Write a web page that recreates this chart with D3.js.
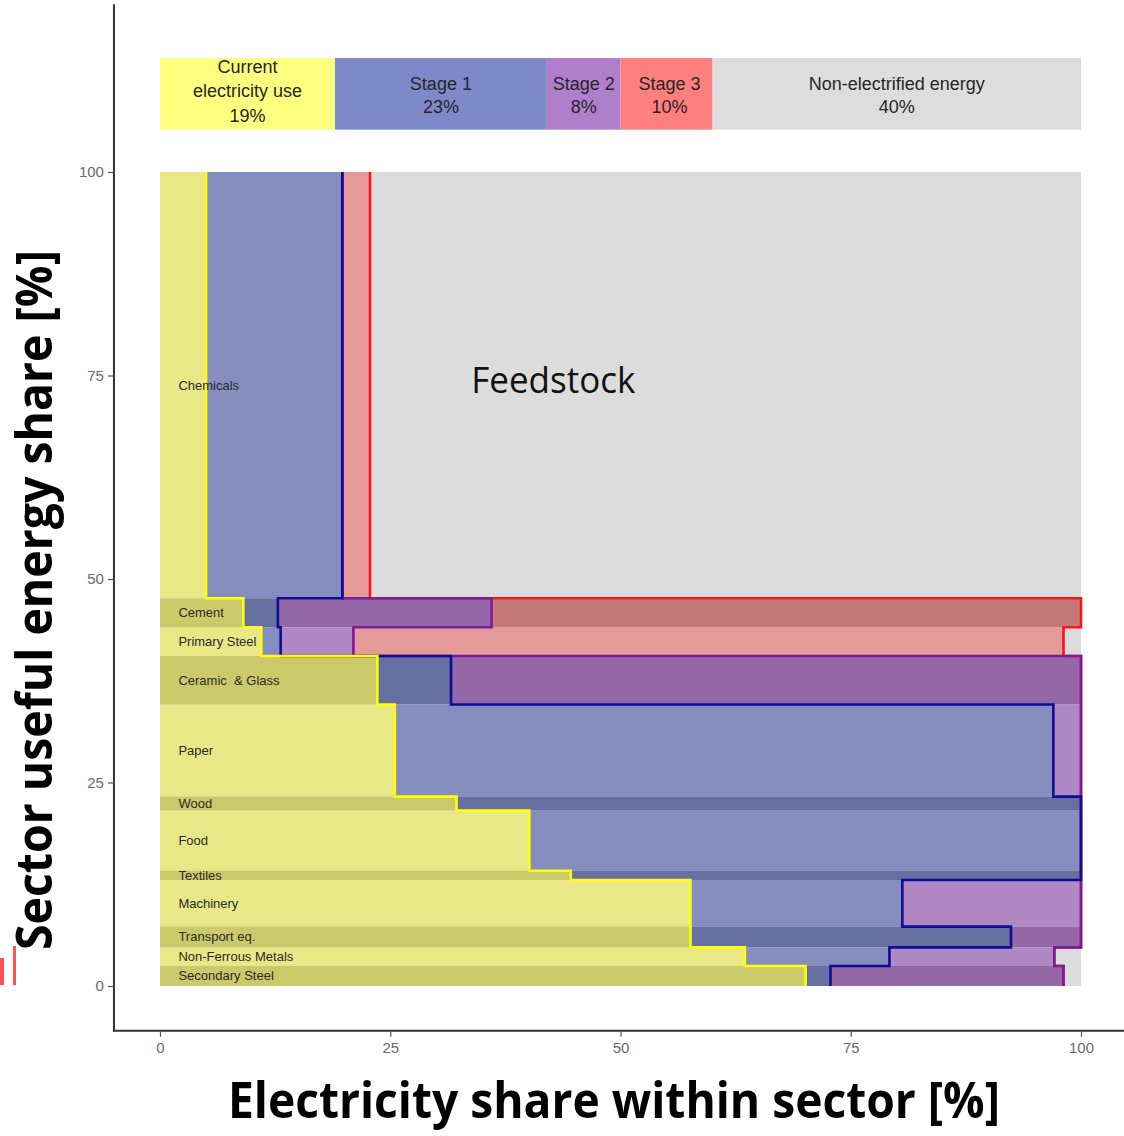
<!DOCTYPE html>
<html>
<head>
<meta charset="utf-8">
<script src="https://cdn.jsdelivr.net/npm/d3@7"></script>
<style>
  html, body { margin: 0; padding: 0; background: #fff; }
  svg { display: block; }
</style>
</head>
<body>
<svg id="chart" width="1124" height="1136"></svg>
<script>
// ---------------- DATA ----------------
const sectors = ["Chemicals", "Cement", "Primary Steel", "Ceramic  & Glass", "Paper", "Wood",
                 "Food", "Textiles", "Machinery", "Transport eq.", "Non-Ferrous Metals", "Secondary Steel"];
// sector share of useful energy [%], listed top to bottom
const sectorShare = [52.37, 3.56, 3.53, 5.96, 11.32, 1.72, 7.38, 1.14, 5.73, 2.54, 2.29, 2.46];
// electricity shares within sector [%]
const currentUse = [5.0, 9.05, 11.0, 23.6, 25.5, 32.2, 40.1, 44.6, 57.6, 57.6, 63.5, 70.1];
const stage1 =     [14.8, 3.75, 2.1, 8.0, 71.5, 67.8, 59.9, 55.4, 23.0, 34.8, 15.7, 2.7];
const stage2 =     [0.0, 23.2, 7.9, 68.4, 3.0, 0.0, 0.0, 0.0, 19.4, 7.6, 17.9, 25.3];
const stage3 =     [3.0, 64.0, 77.1, 0.0, 0.0, 0.0, 0.0, 0.0, 0.0, 0.0, 0.0, 0.0];

const summaryLabels = [["Current", "electricity use", "19%"], ["Stage 1", "23%"], ["Stage 2", "8%"],
                       ["Stage 3", "10%"], ["Non-electrified energy", "40%"]];
const summaryValues = [19, 23, 8, 10, 40];

const xTicks = [0, 25, 50, 75, 100];
const yTicks = [0, 25, 50, 75, 100];
const xTitle = "Electricity share within sector [%]";
const yTitle = "Sector useful energy share [%]";
const noteText = "Feedstock";

// ---------------- STYLE ----------------
const fillLight = ["#e8e887", "#858ebf", "#b088c4", "#e59a9a", "#dcdcdc"];
const fillDark  = ["#caca6b", "#6670a0", "#9468a6", "#c47878", "#dcdcdc"];
const barFill   = ["#ffff80", "#7e89c9", "#b07fcc", "#ff7f7f", "#dddddd"];
const lineCol   = ["#ffff00", "#0c0c98", "#7d1a9f", "#ff1414"];

const svg = d3.select("#chart");
const x = d3.scaleLinear().domain([0, 100]).range([160, 1081]);
const y = d3.scaleLinear().domain([0, 100]).range([986, 172]);

// ---------------- ROWS ----------------
let runTop = 100;
const rows = sectors.map((name, i) => {
  const t = runTop, b = runTop - sectorShare[i];
  runTop = b;
  const c1 = currentUse[i], c2 = c1 + stage1[i], c3 = c2 + stage2[i], c4 = c3 + stage3[i];
  return { name, top: t, bottom: b, cum: [0, c1, c2, c3, c4, 100], dark: i % 2 === 1 };
});

// panel background
svg.append("rect")
  .attr("x", x(0)).attr("y", y(100))
  .attr("width", x(100) - x(0)).attr("height", y(0) - y(100))
  .attr("fill", "#dcdcdc");

// fills
rows.forEach(r => {
  for (let k = 0; k < 5; k++) {
    const a = r.cum[k], b = r.cum[k + 1];
    if (b - a <= 0.001) continue;
    svg.append("rect")
      .attr("x", x(a)).attr("y", y(r.top))
      .attr("width", x(b) - x(a)).attr("height", y(r.bottom) - y(r.top))
      .attr("fill", r.dark ? fillDark[k] : fillLight[k]);
  }
});

// step outlines, drawn red -> purple -> blue -> yellow
const line = d3.line().x(d => x(d[0])).y(d => y(d[1]));
[4, 3, 2, 1].forEach(k => {
  const pts = [];
  rows.forEach(r => { pts.push([r.cum[k], r.top]); pts.push([r.cum[k], r.bottom]); });
  svg.append("path")
    .attr("d", line(pts))
    .attr("fill", "none")
    .attr("stroke", lineCol[k - 1])
    .attr("stroke-width", 2.6)
    .attr("stroke-linejoin", "miter");
});

// sector labels
rows.forEach(r => {
  svg.append("text")
    .attr("x", x(2)).attr("y", y((r.top + r.bottom) / 2))
    .attr("dominant-baseline", "central")
    .attr("font-family", "Liberation Sans, Arial, sans-serif")
    .attr("font-size", 13)
    .attr("fill", "#2a2a2a")
    .attr("xml:space", "preserve")
    .style("white-space", "pre")
    .text(r.name);
});

// Feedstock note
svg.append("text")
  .attr("x", x(33.8)).attr("y", 393)
  .attr("font-family", "Open Sans, sans-serif")
  .attr("font-size", 36)
  .attr("fill", "#111")
  .attr("textLength", 164).attr("lengthAdjust", "spacingAndGlyphs")
  .text(noteText);

// ---------------- SUMMARY BAR ----------------
let acc = 0;
summaryValues.forEach((v, i) => {
  const a = acc, b = acc + v; acc = b;
  svg.append("rect")
    .attr("x", x(a)).attr("y", y(114))
    .attr("width", x(b) - x(a)).attr("height", y(105.2) - y(114))
    .attr("fill", barFill[i]);
  const lines = summaryLabels[i];
  const cx = x((a + b) / 2) + (i === 3 ? 3 : 0);
  const cy = y(lines.length === 3 ? 109.9 : 109.4);
  const lh = lines.length === 3 ? 24.5 : 23;
  const t = svg.append("text")
    .attr("text-anchor", "middle")
    .attr("font-family", "Liberation Sans, Arial, sans-serif")
    .attr("font-size", 18)
    .attr("fill", "#262626");
  lines.forEach((s, j) => {
    t.append("tspan")
      .attr("x", cx)
      .attr("y", cy + (j - (lines.length - 1) / 2) * lh)
      .attr("dominant-baseline", "central")
      .text(s);
  });
});

// ---------------- AXES ----------------
const axLeftX = x(-5), axBottomY = y(-5.5);
svg.append("line")
  .attr("x1", axLeftX).attr("x2", axLeftX)
  .attr("y1", y(120.6)).attr("y2", axBottomY + 1)
  .attr("stroke", "#333").attr("stroke-width", 2);
svg.append("line")
  .attr("x1", axLeftX - 1).attr("x2", 1124)
  .attr("y1", axBottomY).attr("y2", axBottomY)
  .attr("stroke", "#333").attr("stroke-width", 2);

const yAxis = svg.append("g")
  .attr("transform", `translate(${axLeftX},0)`)
  .call(d3.axisLeft(y).tickValues(yTicks).tickSize(6).tickPadding(4));
const xAxis = svg.append("g")
  .attr("transform", `translate(0,${axBottomY})`)
  .call(d3.axisBottom(x).tickValues(xTicks).tickSize(6).tickPadding(6));
[yAxis, xAxis].forEach(g => {
  g.select(".domain").remove();
  g.selectAll(".tick line").attr("stroke", "#555").attr("stroke-width", 1.2);
  g.selectAll(".tick text")
    .attr("font-family", "Liberation Sans, Arial, sans-serif")
    .attr("font-size", 15)
    .attr("fill", "#6a6a6a");
});

// axis titles
svg.append("text")
  .attr("x", 614).attr("y", 1118)
  .attr("text-anchor", "middle")
  .attr("font-family", "Open Sans, sans-serif")
  .attr("font-weight", "bold")
  .attr("font-size", 50)
  .attr("fill", "#000")
  .attr("textLength", 772).attr("lengthAdjust", "spacingAndGlyphs")
  .text(xTitle);
svg.append("text")
  .attr("transform", "translate(52,600) rotate(-90)")
  .attr("text-anchor", "middle")
  .attr("font-family", "Open Sans, sans-serif")
  .attr("font-weight", "bold")
  .attr("font-size", 50)
  .attr("fill", "#000")
  .attr("textLength", 700).attr("lengthAdjust", "spacingAndGlyphs")
  .text(yTitle);

// red cropped marks at lower-left edge
svg.append("rect").attr("x", 0).attr("y", 958).attr("width", 4).attr("height", 27).attr("fill", "#ff5252");
svg.append("rect").attr("x", 13).attr("y", 946).attr("width", 3).attr("height", 39).attr("fill", "#ff5252");
</script>
</body>
</html>
